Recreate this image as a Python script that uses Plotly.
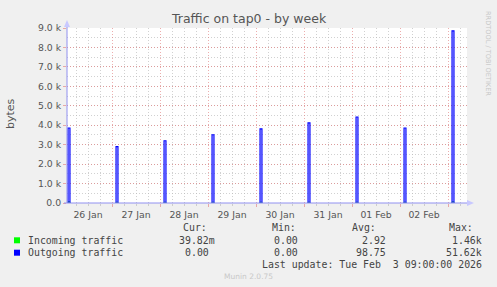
import plotly.graph_objects as go

# ---- data ----
spike_days = ["2026-01-26", "2026-01-27", "2026-01-28", "2026-01-29", "2026-01-30",
              "2026-01-31", "2026-02-01", "2026-02-02", "2026-02-03"]
spike_start = "02:00"
spike_end = "03:00"
outgoing_peaks = [3860, 2900, 3200, 3510, 3810, 4120, 4420, 3860, 8850]
incoming_peaks = [60, 40, 40, 40, 40, 40, 40, 40, 60]

y_ticks = [0, 1000, 2000, 3000, 4000, 5000, 6000, 7000, 8000, 9000]
y_ticktext = ["0.0", "1.0 k", "2.0 k", "3.0 k", "4.0 k", "5.0 k", "6.0 k", "7.0 k", "8.0 k", "9.0 k"]

legend_names = ["Incoming traffic", "Outgoing traffic"]
legend_cur = ["39.82m", "0.00"]
legend_min = ["0.00", "0.00"]
legend_avg = ["2.92", "98.75"]
legend_max = ["1.46k", "51.62k"]
last_update = "Last update: Tue Feb \u00a03 09:00:00 2026"
title = "Traffic on tap0 - by week"
x_start = "2026-01-26 01:30"
x_end = "2026-02-03 09:30"

W, H = 497, 287
L, R, T, B = 67, 467, 28, 203


def fx(px):
    return (px - L) / (R - L)


def fy(py):
    return (B - py) / (B - T)


def spike_series(peaks):
    xs, ys = [], []
    for d, v in zip(spike_days, peaks):
        t0 = f"{d} {spike_start}"
        t1 = f"{d} {spike_end}"
        xs += [t0, t0, t1, t1, None]
        ys += [0, v, v, 0, None]
    return xs, ys


fig = go.Figure()
gx, gy = spike_series(incoming_peaks)
fig.add_trace(go.Scatter(x=gx, y=gy, mode="lines", line=dict(color="#00cc00", width=1),
                         connectgaps=False, showlegend=False, hoverinfo="skip"))
bx, by = spike_series(outgoing_peaks)
fig.add_trace(go.Scatter(x=bx, y=by, mode="lines", line=dict(color="#0000ff", width=1.1),
                         fill="tozeroy", fillcolor="rgba(40,40,255,0.3)",
                         connectgaps=False, showlegend=False, hoverinfo="skip"))

red_grid = "rgba(225,120,120,0.6)"
gray_grid = "rgba(185,185,185,0.65)"
tick_font = dict(family="DejaVu Sans", size=9.3, color="#555555")

fig.update_xaxes(
    range=[x_start, x_end], type="date",
    tickmode="linear", tick0="2026-01-26", dtick=86400000,
    ticklabelmode="period", tickformat="%d %b",
    showgrid=True, gridcolor=red_grid, griddash="1px,2px", gridwidth=1,
    ticks="outside", ticklen=3, tickcolor=red_grid,
    minor=dict(dtick=21600000, tick0="2026-01-26", showgrid=True, gridcolor=gray_grid,
               griddash="1px,2px", ticks="outside", ticklen=2, tickcolor=gray_grid),
    showline=False, zeroline=False, tickfont=tick_font, fixedrange=True,
)
fig.update_yaxes(
    range=[0, 9000], tickmode="array", tickvals=y_ticks, ticktext=y_ticktext,
    showgrid=True, gridcolor=red_grid, griddash="1px,2px", gridwidth=1,
    ticks="outside", ticklen=3, tickcolor=red_grid,
    minor=dict(dtick=500, showgrid=True, gridcolor=gray_grid, griddash="1px,2px"),
    showline=False, zeroline=False, tickfont=tick_font, fixedrange=True,
)

axis_col = "#9090f0"
arrow_col = "#c8c8ff"
shapes = [
    dict(type="line", xref="paper", yref="paper", x0=fx(67), x1=fx(67), y0=fy(203), y1=fy(24),
         line=dict(color=axis_col, width=1)),
    dict(type="line", xref="paper", yref="paper", x0=fx(64), x1=fx(469), y0=fy(203), y1=fy(203),
         line=dict(color=axis_col, width=1)),
    dict(type="path", xref="paper", yref="paper",
         path=f"M {fx(64)} {fy(27)} L {fx(70)} {fy(27)} L {fx(67)} {fy(20)} Z",
         fillcolor=arrow_col, line=dict(width=0)),
    dict(type="path", xref="paper", yref="paper",
         path=f"M {fx(467)} {fy(200)} L {fx(467)} {fy(206)} L {fx(474)} {fy(203)} Z",
         fillcolor=arrow_col, line=dict(width=0)),
]
for yc, col in [(240.3, "#00ff00"), (252.7, "#0000ff")]:
    shapes.append(dict(type="rect", xref="paper", yref="paper",
                       x0=fx(14), x1=fx(20), y0=fy(yc - 3), y1=fy(yc + 3),
                       fillcolor=col, line=dict(width=0)))

mono = dict(family="DejaVu Sans Mono", size=9.9, color="#444444")
ann = []


def text(x, y, s, font, xanchor="left", angle=0):
    ann.append(dict(x=fx(x), y=fy(y), xref="paper", yref="paper", text=s, showarrow=False,
                    xanchor=xanchor, yanchor="middle", font=font, textangle=angle))


text(248.5, 18.5, title, dict(family="DejaVu Sans", size=12.5, color="#555555"), "center")
text(10, 114, "bytes", dict(family="DejaVu Sans", size=11, color="#555555"), "center", -90)
text(488, 53, "RRDTOOL / TOBI OETIKER", dict(family="DejaVu Sans", size=6.6, color="#c8c8c8"), "center", 90)
text(248.5, 276.5, "Munin 2.0.75", dict(family="DejaVu Sans", size=7.5, color="#c8c8c8"), "center")

text(181, 227.3, "Cur:", mono)
text(270, 227.3, "Min:", mono)
text(350, 227.3, "Avg:", mono)
text(446.7, 227.3, "Max:", mono)
row_y = [240.3, 252.7]
for i, yc in enumerate(row_y):
    text(26, yc, legend_names[i], mono)
    cur = legend_cur[i]
    if cur[-1].isalpha():
        text(217, yc, cur, mono, "right")
    else:
        text(211, yc, cur, mono, "right")
    text(299.5, yc, legend_min[i], mono, "right")
    text(387.5, yc, legend_avg[i], mono, "right")
    text(483.5, yc, legend_max[i], mono, "right")
text(483.5, 264, last_update, mono, "right")

fig.update_layout(
    width=W, height=H,
    margin=dict(l=L, r=W - R, t=T, b=H - B, pad=0),
    paper_bgcolor="#f0f0f0", plot_bgcolor="#ffffff",
    shapes=shapes, annotations=ann, showlegend=False,
)

fig.write_html("out.html", config={"displayModeBar": False})
